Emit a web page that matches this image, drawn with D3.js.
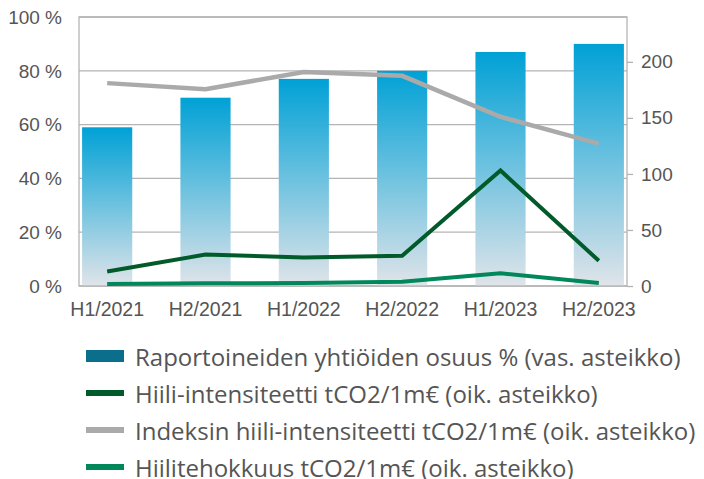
<!DOCTYPE html>
<html>
<head>
<meta charset="utf-8">
<script src="https://cdn.jsdelivr.net/npm/d3@7"></script>
<style>
  body { margin: 0; background: #fff; }
  svg { display: block; }
</style>
</head>
<body>
<script>
var categories = ['H1/2021', 'H2/2021', 'H1/2022', 'H2/2022', 'H1/2023', 'H2/2023'];
var reportedShare = [59, 70, 77, 80, 87, 90];           // % left axis
var carbonIntensity = [13, 28, 25.5, 27, 103, 22.5];    // right axis
var indexIntensity = [181, 175.5, 191, 187.5, 151, 127];
var carbonEfficiency = [1.8, 2.4, 2.7, 3.8, 11.3, 2.7];
var leftTicks = [0, 20, 40, 60, 80, 100];
var rightTicks = [0, 50, 100, 150, 200];

var legendItems = [
  { label: 'Raportoineiden yhtiöiden osuus % (vas. asteikko)', color: '#0b6e8c', type: 'bar' },
  { label: 'Hiili-intensiteetti tCO2/1m€ (oik. asteikko)', color: '#005a2a', type: 'line' },
  { label: 'Indeksin hiili-intensiteetti tCO2/1m€ (oik. asteikko)', color: '#aaaaaa', type: 'line' },
  { label: 'Hiilitehokkuus tCO2/1m€ (oik. asteikko)', color: '#00875a', type: 'line' }
];

var width = 704, height = 479;
var plotLeft = 79, plotRight = 627, plotTop = 17, plotBottom = 286;

var svg = d3.select('body').append('svg')
  .attr('width', width)
  .attr('height', height);

var defs = svg.append('defs');
var grad = defs.append('linearGradient')
  .attr('id', 'barGrad')
  .attr('x1', 0).attr('y1', 0).attr('x2', 0).attr('y2', 1);
grad.append('stop').attr('offset', '0%').attr('stop-color', '#00a1d6');
grad.append('stop').attr('offset', '100%').attr('stop-color', '#e0e4e9');

var x = d3.scaleBand()
  .domain(categories)
  .range([58, 648])
  .paddingInner(0.49)
  .paddingOuter(0.245);

var yLeft = d3.scaleLinear().domain([0, 100]).range([plotBottom, plotTop]);
var yRight = d3.scaleLinear().domain([0, 240]).range([plotBottom, plotTop]);

// gridlines
svg.append('g')
  .selectAll('line')
  .data(leftTicks)
  .enter().append('line')
    .attr('x1', plotLeft).attr('x2', plotRight)
    .attr('y1', function(d) { return yLeft(d); })
    .attr('y2', function(d) { return yLeft(d); })
    .attr('stroke', '#b4b4b4')
    .attr('stroke-width', 1.3);

// bars
svg.append('g')
  .selectAll('rect')
  .data(reportedShare)
  .enter().append('rect')
    .attr('x', function(d, i) { return x(categories[i]); })
    .attr('y', function(d) { return yLeft(d); })
    .attr('width', x.bandwidth())
    .attr('height', function(d) { return plotBottom - yLeft(d); })
    .attr('fill', 'url(#barGrad)');

// frame
svg.append('rect')
  .attr('x', plotLeft).attr('y', plotTop)
  .attr('width', plotRight - plotLeft).attr('height', plotBottom - plotTop)
  .attr('fill', 'none')
  .attr('stroke', '#b4b4b4')
  .attr('stroke-width', 1.3);

// lines
var cx = function(i) { return x(categories[i]) + x.bandwidth() / 2; };
var lineGen = d3.line()
  .x(function(d, i) { return cx(i); })
  .y(function(d) { return yRight(d); });

var series = [
  { values: indexIntensity, color: '#aaaaaa', w: 4.5 },
  { values: carbonIntensity, color: '#005a2a', w: 4 },
  { values: carbonEfficiency, color: '#00875a', w: 4 }
];
svg.append('g')
  .selectAll('path')
  .data(series)
  .enter().append('path')
    .attr('d', function(d) { return lineGen(d.values); })
    .attr('fill', 'none')
    .attr('stroke', function(d) { return d.color; })
    .attr('stroke-width', function(d) { return d.w; })
    .attr('stroke-linejoin', 'miter');

// left axis labels
var tickFont = '"Liberation Sans", Arial, sans-serif';
svg.append('g')
  .selectAll('text')
  .data(leftTicks)
  .enter().append('text')
    .attr('x', 62)
    .attr('y', function(d) { return yLeft(d); })
    .attr('dy', '0.36em')
    .attr('text-anchor', 'end')
    .attr('font-family', tickFont)
    .attr('font-size', 19)
    .attr('fill', '#555')
    .text(function(d) { return d + ' %'; });

// right axis
var rAxis = svg.append('g')
  .attr('transform', 'translate(' + plotRight + ',0)')
  .call(d3.axisRight(yRight).tickValues(rightTicks).tickSize(6).tickPadding(8));
rAxis.select('.domain').remove();
rAxis.selectAll('line').attr('stroke', '#b4b4b4').attr('stroke-width', 1.3);
rAxis.selectAll('text')
  .attr('font-family', tickFont)
  .attr('font-size', 19)
  .attr('fill', '#555');

// x axis
var xAxis = svg.append('g')
  .attr('transform', 'translate(0,' + plotBottom + ')')
  .call(d3.axisBottom(x).tickSize(0).tickPadding(16));
xAxis.select('.domain').remove();
xAxis.selectAll('text')
  .attr('font-family', tickFont)
  .attr('font-size', 19.5)
  .attr('fill', '#555');

// legend
var legend = svg.append('g')
  .selectAll('g')
  .data(legendItems)
  .enter().append('g')
    .attr('transform', function(d, i) { return 'translate(86,' + (356 + i * 37) + ')'; });

legend.append('rect')
  .attr('x', 0)
  .attr('y', function(d) { return d.type == 'bar' ? -6 : -3; })
  .attr('width', 38)
  .attr('height', function(d) { return d.type == 'bar' ? 12 : 6; })
  .attr('fill', function(d) { return d.color; });

legend.append('text')
  .attr('x', 49)
  .attr('y', 10)
  .attr('font-family', '"Open Sans", "Noto Sans", sans-serif')
  .attr('font-size', 24)
  .attr('fill', '#555')
  .text(function(d) { return d.label; });
</script>
</body>
</html>
